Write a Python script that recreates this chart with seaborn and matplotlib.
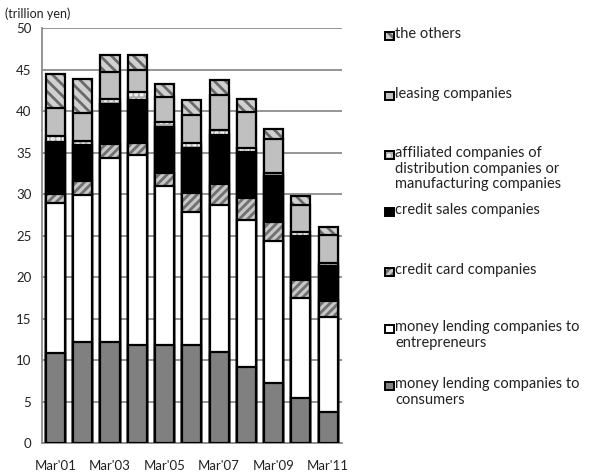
import matplotlib
matplotlib.use("Agg")
import matplotlib.pyplot as plt
import numpy as np
import pandas as pd
import seaborn as sns
from matplotlib.patches import Rectangle

years = ["Mar'01", "Mar'02", "Mar'03", "Mar'04", "Mar'05", "Mar'06",
         "Mar'07", "Mar'08", "Mar'09", "Mar'10", "Mar'11"]

# trillion yen (bottom layer first)
consumers = [10.9, 12.2, 12.2, 11.8, 11.8, 11.8, 11.0, 9.2, 7.3, 5.4, 3.7]
entrepreneurs = [18.0, 17.7, 22.1, 22.9, 19.2, 16.0, 17.7, 17.7, 17.1, 12.1, 11.5]
credit_card = [1.1, 1.7, 1.7, 1.5, 1.5, 2.3, 2.5, 2.6, 2.2, 2.2, 1.9]
credit_sales = [6.3, 4.3, 4.9, 5.1, 5.6, 5.5, 5.9, 5.6, 5.6, 5.2, 4.2]
affiliated = [0.7, 0.5, 0.6, 1.0, 0.6, 0.6, 0.6, 0.5, 0.4, 0.5, 0.4]
leasing = [3.4, 3.4, 3.2, 2.7, 3.0, 3.3, 4.2, 4.3, 4.0, 3.3, 3.4]
others = [4.1, 4.1, 2.0, 1.8, 1.6, 1.8, 1.8, 1.5, 1.3, 1.1, 0.9]

layers = [
    ("money lending companies to\nconsumers", consumers, "#808080", None, None),
    ("money lending companies to\nentrepreneurs", entrepreneurs, "white", None, None),
    ("credit card companies", credit_card, "#c8c8c8", "////", "#707070"),
    ("credit sales companies", credit_sales, "black", None, None),
    ("affiliated companies of\ndistribution companies or\nmanufacturing companies",
     affiliated, "#b0b0b0", "...", "white"),
    ("leasing companies", leasing, "#c0c0c0", None, None),
    ("the others", others, "#d0d0d0", "\\\\\\", "#6a6a6a"),
]

df = pd.DataFrame({"year": years})
running = np.zeros(len(years))
tops = []
for name, vals, *_ in layers:
    running = running + np.array(vals)
    tops.append(running.copy())

plt.rcParams["hatch.linewidth"] = 2.0
sns.set_style("white")
plt.rcParams["font.family"] = ["Lato", "DejaVu Sans"]

fig = plt.figure(figsize=(6.07, 4.76), dpi=100)
ax = fig.add_axes([0.069, 0.069, 0.494, 0.872])

# draw cumulative totals from the top layer down so each covers the one above
for (name, vals, face, hatch, hcol), top in reversed(list(zip(layers, tops))):
    df["top"] = top
    sns.barplot(data=df, x="year", y="top", color=face, saturation=1,
                width=0.7, ax=ax, edgecolor=hcol if hatch else "black",
                hatch=hatch, linewidth=0 if hatch else 1.6, zorder=3)
    if hatch:
        sns.barplot(data=df, x="year", y="top", fill=False, width=0.7, ax=ax,
                    edgecolor="black", linewidth=1.6, zorder=3)

ax.set_ylim(0, 50)
ax.set_xlim(-0.5, len(years) - 0.5)
ax.set_yticks(range(0, 51, 5))
ax.yaxis.grid(True, color="#8c8c8c", linewidth=1.3, zorder=0)
ax.set_axisbelow(True)
ax.set_xticks(range(0, len(years), 2))
ax.set_xticklabels(years[::2])
ax.set_xticks(np.arange(-0.5, len(years), 1), minor=True)
ax.tick_params(axis="x", which="major", length=0, pad=12, labelsize=9.5,
               colors="#222222")
ax.tick_params(axis="x", which="minor", length=4, direction="out",
               color="#8c8c8c")
ax.tick_params(axis="y", length=4, direction="out", color="#8c8c8c",
               labelsize=9.5, colors="#222222")
for s in ["top", "right"]:
    ax.spines[s].set_visible(False)
for s in ["left", "bottom"]:
    ax.spines[s].set_color("#8c8c8c")
    ax.spines[s].set_linewidth(1.3)
ax.set_xlabel("")
ax.set_ylabel("")
fig.text(0.008, 0.972, "(trillion yen)", fontsize=9, color="#222222",
         va="center", ha="left")

# legend, top to bottom as in the reference
legend_y = [36, 96, 155, 212, 272, 329, 386]
for (name, vals, face, hatch, hcol), ypx in zip(reversed(layers), legend_y):
    yf = 1 - ypx / 476
    x0 = 385 / 607
    w = 8.5 / 607
    h = 8.5 / 476
    fig.patches.append(Rectangle((x0, yf - h / 2), w, h, transform=fig.transFigure,
                                 facecolor=face, edgecolor=hcol if hatch else "black",
                                 hatch=hatch, linewidth=0 if hatch else 1.4))
    if hatch:
        fig.patches.append(Rectangle((x0, yf - h / 2), w, h, transform=fig.transFigure,
                                     fill=False, edgecolor="black", linewidth=1.4))
    fig.text(395 / 607, yf + 9 / 476, name, fontsize=10.5, color="#222222",
             va="top", ha="left", linespacing=1.15)

fig.savefig("out.png", dpi=100)
